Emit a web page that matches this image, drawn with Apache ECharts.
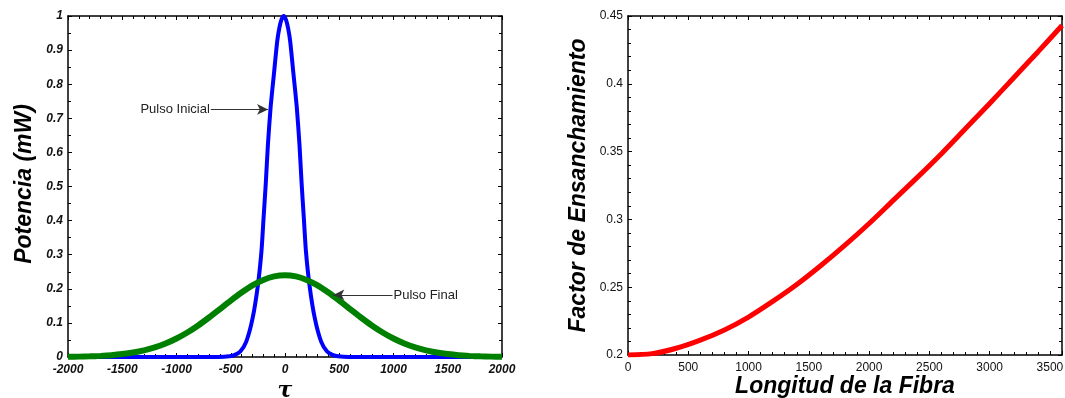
<!DOCTYPE html>
<html>
<head>
<meta charset="utf-8">
<script src="https://cdn.jsdelivr.net/npm/echarts@6/dist/echarts.min.js"></script>
<style>
html,body{margin:0;padding:0;background:#fff;}
#c{width:1065px;height:398px;}
</style>
</head>
<body>
<div id="c"></div>
<script>
// ---- Data ----
const blueX = [-2000, -612, -512, -462, -412, -357, -299, -250, -217, -197, -177, -157, -132, -102, -72, -52, -32, -12,
               8, 28, 48, 78, 108, 133, 153, 173, 193, 226, 275, 333, 388, 438, 488, 588, 2000];
const blueY = [0, 0, 0.002, 0.006, 0.016, 0.045, 0.113, 0.21, 0.31, 0.41, 0.51, 0.625, 0.735, 0.83, 0.925, 0.965, 0.99, 1.0,
               0.99, 0.965, 0.925, 0.83, 0.735, 0.625, 0.51, 0.41, 0.31, 0.21, 0.113, 0.045, 0.016, 0.006, 0.002, 0, 0];

const greenX = [-2000, -1900, -1800, -1700, -1600, -1500, -1400, -1300, -1200, -1100, -1000, -900, -800, -700, -600, -500, -400, -300, -200, -100, 0,
                100, 200, 300, 400, 500, 600, 700, 800, 900, 1000, 1100, 1200, 1300, 1400, 1500, 1600, 1700, 1800, 1900, 2000];
const greenY = [0.0006, 0.0011, 0.0019, 0.0033, 0.0053, 0.0085, 0.013, 0.0194, 0.0282, 0.0397, 0.0542, 0.072, 0.0926, 0.1158, 0.1405, 0.1655, 0.189, 0.21, 0.226, 0.2365, 0.24,
                0.2365, 0.226, 0.21, 0.189, 0.1655, 0.1405, 0.1158, 0.0926, 0.072, 0.0542, 0.0397, 0.0282, 0.0194, 0.013, 0.0085, 0.0053, 0.0033, 0.0019, 0.0011, 0.0006];

const fibraX = [0, 200, 400, 600, 800, 1000, 1200, 1400, 1600, 1800, 2000, 2200, 2400, 2600, 2800, 3000, 3200, 3400, 3600];
const factorY = [0.2, 0.201, 0.205, 0.211, 0.2185, 0.228, 0.2395, 0.252, 0.266, 0.281, 0.297, 0.314, 0.331, 0.3485, 0.367, 0.3855, 0.4045, 0.4235, 0.443];

const annInicial = {text: 'Pulso Inicial', from: [-684, 0.726], to: [-156, 0.726]};
const annFinal = {text: 'Pulso Final', from: [991, 0.182], to: [445, 0.182]};

// ---- Styles ----
const FONT = "'Liberation Sans', Arial, sans-serif";
const axisLineStyle = {onZero: false, lineStyle: {color: '#000', width: 1.5}};
const tickStyle = {show: true, inside: true, length: 4, lineStyle: {color: '#000', width: 1}};
const minorStyle = (n) => ({show: true, splitNumber: n, length: 3, lineStyle: {color: '#000', width: 1}});
const plain = (v) => String(+v.toFixed(4));
const boldLbl = {color: '#111', fontFamily: FONT, fontSize: 12, fontWeight: 'bold', fontStyle: 'italic', formatter: plain};
const regLbl = {color: '#111', fontFamily: FONT, fontSize: 12, formatter: plain};

function zip(a, b) { return a.map((v, i) => [v, b[i]]); }

function arrowMark(a) {
  return {
    silent: true, animation: false,
    symbol: ['none', 'arrow'], symbolSize: [8, 11],
    lineStyle: {color: '#333', width: 1.2, type: 'solid'},
    label: {show: true, position: 'start', distance: 1, formatter: a.text, color: '#222', fontFamily: FONT, fontSize: 13},
    data: [[{coord: a.from}, {coord: a.to}]]
  };
}

const chart = echarts.init(document.getElementById('c'), null, {renderer: 'canvas'});
chart.setOption({
  backgroundColor: '#fff',
  animation: false,
  grid: [
    {left: 68, top: 16, width: 434, height: 341, containLabel: false, outerBoundsMode: 'none'},
    {left: 628, top: 16, width: 434, height: 339, containLabel: false, outerBoundsMode: 'none'}
  ],
  xAxis: [
    {gridIndex: 0, type: 'value', min: -2000, max: 2000, interval: 500, position: 'bottom',
     axisLine: axisLineStyle, axisTick: tickStyle, minorTick: minorStyle(5), splitLine: {show: false},
     axisLabel: Object.assign({margin: 7}, boldLbl),
     name: 'τ', nameLocation: 'middle', nameGap: 23, nameMoveOverlap: false,
     nameTextStyle: {fontFamily: "'DejaVu Serif', serif", fontSize: 22, fontWeight: 'bold', fontStyle: 'italic', color: '#000'}},
    {gridIndex: 0, type: 'value', min: -2000, max: 2000, interval: 500, position: 'top',
     axisLine: axisLineStyle, axisTick: tickStyle, minorTick: minorStyle(5), splitLine: {show: false},
     axisLabel: {show: false}},
    {gridIndex: 1, type: 'value', min: 0, max: 3600, interval: 500, position: 'bottom',
     axisLine: axisLineStyle, axisTick: tickStyle, minorTick: minorStyle(5), splitLine: {show: false},
     axisLabel: Object.assign({margin: 7, showMaxLabel: false}, regLbl),
     name: 'Longitud de la Fibra', nameLocation: 'middle', nameGap: 20, nameMoveOverlap: false,
     nameTextStyle: {fontFamily: FONT, fontSize: 23, fontWeight: 'bold', fontStyle: 'italic', color: '#000'}},
    {gridIndex: 1, type: 'value', min: 0, max: 3600, interval: 500, position: 'top',
     axisLine: axisLineStyle, axisTick: tickStyle, minorTick: minorStyle(5), splitLine: {show: false},
     axisLabel: {show: false}}
  ],
  yAxis: [
    {gridIndex: 0, type: 'value', min: 0, max: 1, interval: 0.1, position: 'left',
     axisLine: axisLineStyle, axisTick: tickStyle, minorTick: minorStyle(2), splitLine: {show: false},
     axisLabel: Object.assign({margin: 5}, boldLbl),
     name: 'Potencia (mW)', nameLocation: 'middle', nameGap: 32, nameMoveOverlap: false,
     nameTextStyle: {fontFamily: FONT, fontSize: 23, fontWeight: 'bold', fontStyle: 'italic', color: '#000', padding: [0, 0, 0, 5]}},
    {gridIndex: 0, type: 'value', min: 0, max: 1, interval: 0.1, position: 'right',
     axisLine: axisLineStyle, axisTick: tickStyle, minorTick: minorStyle(2), splitLine: {show: false},
     axisLabel: {show: false}},
    {gridIndex: 1, type: 'value', min: 0.2, max: 0.45, interval: 0.05, position: 'left',
     axisLine: axisLineStyle, axisTick: tickStyle, minorTick: minorStyle(5), splitLine: {show: false},
     axisLabel: Object.assign({margin: 5}, regLbl),
     name: 'Factor de Ensanchamiento', nameLocation: 'middle', nameGap: 38, nameMoveOverlap: false,
     nameTextStyle: {fontFamily: FONT, fontSize: 23, fontWeight: 'bold', fontStyle: 'italic', color: '#000'}},
    {gridIndex: 1, type: 'value', min: 0.2, max: 0.45, interval: 0.05, position: 'right',
     axisLine: axisLineStyle, axisTick: tickStyle, minorTick: minorStyle(5), splitLine: {show: false},
     axisLabel: {show: false}}
  ],
  series: [
    {type: 'line', name: 'Pulso Inicial', xAxisIndex: 0, yAxisIndex: 0, data: zip(blueX, blueY),
     showSymbol: false, smooth: 0.2,
     lineStyle: {color: '#0000ff', width: 4}, itemStyle: {color: '#0000ff'},
     markLine: arrowMark(annInicial)},
    {type: 'line', name: 'Pulso Final', xAxisIndex: 0, yAxisIndex: 0, data: zip(greenX, greenY),
     showSymbol: false, smooth: 0.3,
     lineStyle: {color: '#008000', width: 6}, itemStyle: {color: '#008000'},
     markLine: arrowMark(annFinal)},
    {type: 'line', name: 'Factor', xAxisIndex: 2, yAxisIndex: 2, data: zip(fibraX, factorY),
     showSymbol: false, smooth: 0.3,
     lineStyle: {color: '#ff0000', width: 5}, itemStyle: {color: '#ff0000'}}
  ]
});
</script>
</body>
</html>
